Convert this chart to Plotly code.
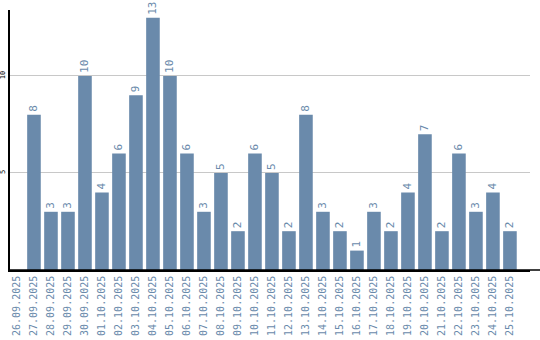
import plotly.graph_objects as go

dates = ["26.09.2025", "27.09.2025", "28.09.2025", "29.09.2025", "30.09.2025",
         "01.10.2025", "02.10.2025", "03.10.2025", "04.10.2025", "05.10.2025",
         "06.10.2025", "07.10.2025", "08.10.2025", "09.10.2025", "10.10.2025",
         "11.10.2025", "12.10.2025", "13.10.2025", "14.10.2025", "15.10.2025",
         "16.10.2025", "17.10.2025", "18.10.2025", "19.10.2025", "20.10.2025",
         "21.10.2025", "22.10.2025", "23.10.2025", "24.10.2025", "25.10.2025"]
values = [0, 8, 3, 3, 10, 4, 6, 9, 13, 10, 6, 3, 5, 2, 6, 5, 2, 8, 3, 2,
          1, 3, 2, 4, 7, 2, 6, 3, 4, 2]
y_ticks = [5, 10]

bar_color = "#6a8aab"
labels = [str(v) if v else "" for v in values]

fig = go.Figure(go.Bar(
    x=dates, y=values, text=labels, textposition="outside", textangle=-90,
    marker=dict(color=bar_color, line=dict(width=0)),
    textfont=dict(color=bar_color, size=11, family="DejaVu Sans Mono"),
    cliponaxis=False,
))

fig.update_layout(
    width=540, height=340,
    margin=dict(l=10, r=10, t=10, b=70),
    plot_bgcolor="white", paper_bgcolor="white",
    bargap=0.2, showlegend=False,
    shapes=[dict(type="line", xref="paper", yref="paper", x0=0, x1=1.02,
                 y0=0, y1=0, line=dict(color="black", width=1.5))],
)
fig.update_xaxes(
    type="category", tickangle=-90, showgrid=False, automargin=False,
    range=[-0.41, 30.18],
    showline=True, linecolor="black", linewidth=1.5,
    ticks="", tickfont=dict(color=bar_color, size=10, family="DejaVu Sans Mono"),
)
fig.update_yaxes(
    range=[0, 13.4], tickvals=y_ticks, showgrid=True, gridcolor="#c8c8c8",
    gridwidth=1, showline=True, linecolor="black", linewidth=1.5,
    zeroline=False, ticks="", tickangle=-90, automargin=False,
    tickfont=dict(color="black", size=7, family="DejaVu Sans Mono"),
)

fig.write_html("out.html")
